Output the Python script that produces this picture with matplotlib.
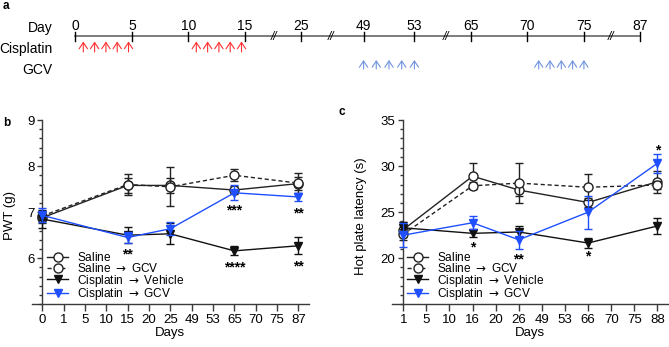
import numpy as np
import matplotlib
matplotlib.use("Agg")
from matplotlib import pyplot as plt
from matplotlib.ticker import FixedLocator, MultipleLocator

plt.rcParams['font.family'] = ['Liberation Sans', 'DejaVu Sans']

# ---- panel a: treatment timeline ----
timeline_days = [0, 5, 10, 15, 25, 49, 53, 65, 70, 75, 87]
timeline_pos = [0, 5, 10, 15, 20, 25.5, 30, 35, 40, 45, 50]
break_pos = [17.6, 22.6, 32.8, 47.4]
cisplatin_days = [1, 2, 3, 4, 5, 11, 12, 13, 14, 15]
gcv_days = [49, 50, 51, 52, 53, 71, 72, 73, 74, 75]

# ---- panel b: PWT ----
pwt_days = ['0', '1', '5', '10', '15', '20', '25', '49', '53', '65', '70', '75', '87']
pwt_idx = [0, 4, 6, 9, 12]
pwt_saline = [6.88, 7.58, 7.58, 7.48, 7.62]
pwt_saline_err = [0.12, 0.17, 0.17, 0.08, 0.15]
pwt_saline_gcv = [6.92, 7.60, 7.55, 7.80, 7.63]
pwt_saline_gcv_err = [0.10, 0.22, 0.42, 0.13, 0.22]
pwt_cis_veh = [6.85, 6.50, 6.53, 6.16, 6.27]
pwt_cis_veh_err = [0.20, 0.17, 0.23, 0.10, 0.18]
pwt_cis_gcv = [6.93, 6.45, 6.64, 7.42, 7.33]
pwt_cis_gcv_err = [0.15, 0.12, 0.14, 0.16, 0.09]
pwt_stars = ['**', '***', '****', '**', '**']
pwt_star_idx = [4, 9, 9, 12, 12]
pwt_star_y = [6.16, 7.11, 5.87, 7.06, 5.90]

# ---- panel c: hot plate ----
hp_days = ['1', '5', '10', '16', '20', '26', '49', '53', '66', '70', '75', '88']
hp_idx = [0, 3, 5, 8, 11]
hp_saline = [23.1, 28.9, 27.4, 26.05, 28.3]
hp_saline_err = [0.8, 1.4, 0.7, 0.5, 1.2]
hp_saline_gcv = [22.6, 27.86, 28.15, 27.7, 27.95]
hp_saline_gcv_err = [0.6, 0.4, 2.2, 1.4, 0.4]
hp_cis_veh = [23.3, 22.7, 22.85, 21.65, 23.5]
hp_cis_veh_err = [0.6, 0.4, 0.6, 0.55, 0.9]
hp_cis_gcv = [22.5, 23.85, 22.0, 25.0, 30.3]
hp_cis_gcv_err = [1.3, 0.7, 1.0, 1.8, 1.0]
hp_stars = ['*', '**', '*', '*']
hp_star_idx = [3, 5, 8, 11]
hp_star_y = [21.6, 20.3, 20.6, 32.1]

labels = ['Saline$\\,$', 'Saline $\\rightarrow$ GCV', 'Cisplatin $\\rightarrow$ Vehicle',
          'Cisplatin $\\rightarrow$ GCV']
BLUE = '#1f4fff'
AXC = '#3a3a3a'

W, H = 669, 347
fig = plt.figure(figsize=(W / 100, H / 100), dpi=100)


def draw_timeline():
    ax = fig.add_axes([0, (H - 90) / H, 1, 90 / H])
    x0, scale = 75.4, 11.3
    ax.set_xlim(-x0 / scale, (W - x0) / scale)
    ax.set_ylim(90, 0)
    ax.axis('off')
    line_y = 35.7
    ax.plot([timeline_pos[0], timeline_pos[-1]], [line_y, line_y], color='#666666', lw=1.2)
    for d, p in zip(timeline_days, timeline_pos):
        ax.plot([p, p], [31.5, 40.5], color='black', lw=1.0)
        ax.text(p, 30.5, str(d), ha='center', va='baseline', fontsize=10)
    for b in break_pos:
        ax.text(b, line_y + 1, '//', ha='center', va='center', fontsize=8.5, style='italic')
    ax.text(-2.0, 28, 'Day', ha='right', va='center', fontsize=10)
    ax.text(-2.0, 48.5, 'Cisplatin', ha='right', va='center', fontsize=10)
    ax.text(-2.0, 70, 'GCV', ha='right', va='center', fontsize=10)
    style = '->,head_length=0.45,head_width=0.3'
    for d in cisplatin_days:
        p = np.interp(d, timeline_days, timeline_pos) - 0.3
        ax.annotate('', xy=(p, 41.5), xytext=(p, 52), arrowprops=dict(
            arrowstyle=style, color='#ff3030', lw=0.8, shrinkA=0, shrinkB=0))
    for d in gcv_days:
        p = np.interp(d, timeline_days, timeline_pos)
        ax.annotate('', xy=(p, 60), xytext=(p, 69), arrowprops=dict(
            arrowstyle=style, color='#6f93e0', lw=0.8, shrinkA=0, shrinkB=0))


def draw_panel(ax, ticks, idx, series, errs, stars, star_idx, star_y,
               ylim, yticks, yminor, ylabel, ylab_x):
    ax.set_xlim(-0.5, len(ticks) - 0.5)
    ax.set_ylim(*ylim)
    for side in ['top', 'right']:
        ax.spines[side].set_visible(False)
    ax.spines['left'].set_position(('data', 0))
    for side in ['left', 'bottom']:
        ax.spines[side].set_color(AXC)
        ax.spines[side].set_linewidth(1.0)
    ax.set_xticks(range(len(ticks)))
    ax.set_xticklabels(ticks)
    ax.yaxis.set_major_locator(FixedLocator(yticks))
    ax.yaxis.set_minor_locator(MultipleLocator(yminor))
    ax.tick_params(axis='x', length=5, width=1.0, color=AXC, pad=2, labelsize=9.5)
    ax.tick_params(axis='y', which='major', length=3.6, width=1.0, color=AXC, pad=2, labelsize=9.5)
    ax.tick_params(axis='y', which='minor', length=2.2, width=1.0, color=AXC)

    styles = [
        dict(color='#222222', ls='-', marker='o', mfc='white', mec='#222222', ms=6.5),
        dict(color='#222222', ls=(0, (3, 2)), marker='o', mfc='white', mec='#222222', ms=6.5),
        dict(color='#111111', ls='-', marker='v', mfc='#111111', mec='#111111', ms=6),
        dict(color=BLUE, ls='-', marker='v', mfc=BLUE, mec=BLUE, ms=6),
    ]
    handles = []
    for k, (vals, err, st) in enumerate(zip(series, errs, styles)):
        cont = ax.errorbar(idx, vals, yerr=err, lw=1.0, capsize=3.2,
                           elinewidth=1.0, capthick=1.0, mew=1.0, ecolor=st['color'],
                           zorder=3 + k, **st)
        handles.append(cont[0])
    for s, i, y in zip(stars, star_idx, star_y):
        ax.annotate(s, (i, y), xytext=(0, -5.5), textcoords='offset points',
                    ha='center', va='baseline', fontsize=10, fontweight='bold')

    ax.legend(handles, labels, loc='upper left', bbox_to_anchor=(0.055, 0.29),
              frameon=False, fontsize=8.6, handlelength=1.8, handletextpad=0.75,
              labelspacing=-0.18, borderpad=0, borderaxespad=0)
    ax.set_ylabel(ylabel, fontsize=9.5)
    ax.yaxis.set_label_coords(ylab_x, 0.48)
    ax.set_xlabel('Days', fontsize=9.5)
    ax.xaxis.set_label_coords(0.5, -0.125)


draw_timeline()

ax_b = fig.add_axes([31.7 / W, (H - 304.3) / H, 277.3 / W, 184.3 / H])
draw_panel(ax_b, pwt_days, pwt_idx,
           [pwt_saline, pwt_saline_gcv, pwt_cis_veh, pwt_cis_gcv],
           [pwt_saline_err, pwt_saline_gcv_err, pwt_cis_veh_err, pwt_cis_gcv_err],
           pwt_stars, pwt_star_idx, pwt_star_y,
           (5, 9), [6, 7, 8, 9], 0.2, 'PWT (g)', -0.057)

ax_c = fig.add_axes([391.7 / W, (H - 304.3) / H, 277.3 / W, 184.3 / H])
draw_panel(ax_c, hp_days, hp_idx,
           [hp_saline, hp_saline_gcv, hp_cis_veh, hp_cis_gcv],
           [hp_saline_err, hp_saline_gcv_err, hp_cis_veh_err, hp_cis_gcv_err],
           hp_stars, hp_star_idx, hp_star_y,
           (15, 35), [20, 25, 30, 35], 1, 'Hot plate latency (s)', -0.089)

fig.text(3 / W, 1 - 9 / H, 'a', fontsize=8.5, fontweight='bold', va='baseline')
fig.text(3 / W, 1 - 126 / H, 'b', fontsize=8.5, fontweight='bold', va='baseline')
fig.text(338 / W, 1 - 115 / H, 'c', fontsize=8.5, fontweight='bold', va='baseline')

fig.savefig('out.png', dpi=100)
